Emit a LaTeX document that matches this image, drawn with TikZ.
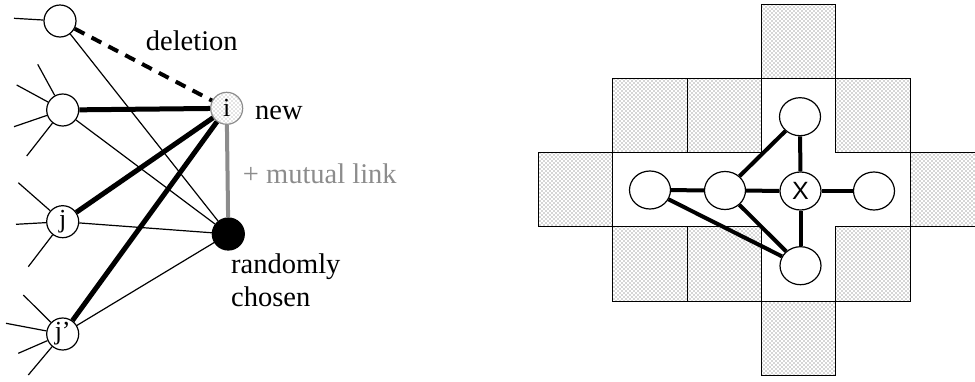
\documentclass[tikz,border=0pt]{standalone}
\usepackage{fontspec}
\setmainfont{Liberation Serif}
\newfontfamily\xsans{Liberation Sans}
\usetikzlibrary{shapes.geometric,patterns}
\pgfdeclarepatternformonly{stipple}{\pgfqpoint{-1pt}{-1pt}}{\pgfqpoint{3pt}{3pt}}{\pgfqpoint{4pt}{4pt}}{%
  \pgfpathcircle{\pgfqpoint{0pt}{0pt}}{0.62pt}%
  \pgfpathcircle{\pgfqpoint{2pt}{2pt}}{0.62pt}%
  \pgfusepath{fill}}
\tikzset{
  vtx/.style={circle, draw=black, line width=1.2pt, fill=white, minimum size=32pt, inner sep=0pt,
    font=\fontsize{26}{28}\selectfont},
  newvtx/.style={vtx, draw=black!45, pattern=stipple, pattern color=black!45},
  chosenvtx/.style={vtx, fill=black},
  thinedge/.style={line width=1.2pt},
  thickedge/.style={line width=5pt},
  deledge/.style={line width=4pt, dash pattern=on 11pt off 8pt},
  mutualedge/.style={line width=4pt, draw=black!45},
  lbl/.style={font=\fontsize{28.5}{33}\selectfont, inner sep=0pt},
  cellshade/.style={draw=black, line width=1pt, pattern=stipple, pattern color=black!70},
  evtx/.style={ellipse, draw=black, line width=1.2pt, fill=white, minimum width=41pt, minimum height=38pt, inner sep=0pt},
  gedge/.style={line width=4pt},
}
\begin{document}
\begin{tikzpicture}[x=1pt, y=-1pt]
\useasboundingbox (0,0) rectangle (975,381);
\clip (0,0) rectangle (975,381);

% ---------------- left network ----------------
\node[vtx] (a) at (60,21) {};
\node[vtx] (b) at (62.7,110) {};
\node[vtx] (j) at (62.7,221.7) {j};
\node[vtx] (jp) at (62.7,334) {j’};
\node[newvtx] (i) at (226.7,108.3) {i};
\node[chosenvtx] (r) at (228.3,234) {};

% stubs
\coordinate (sa1) at (14,18.3);
\coordinate (sb1) at (37.7,64.3);
\coordinate (sb2) at (16.7,85);
\coordinate (sb3) at (14,126.7);
\coordinate (sb4) at (26.7,156);
\coordinate (sj1) at (18.3,182.7);
\coordinate (sj2) at (16,224.3);
\coordinate (sj3) at (28.3,266.7);
\coordinate (sp1) at (23.3,295);
\coordinate (sp2) at (6,323.3);
\coordinate (sp3) at (18.3,353.3);
\coordinate (sp4) at (28.3,375);
\draw[thinedge] (sa1) -- (a);
\draw[thinedge] (sb1) -- (b);
\draw[thinedge] (sb2) -- (b);
\draw[thinedge] (sb3) -- (b);
\draw[thinedge] (sb4) -- (b);
\draw[thinedge] (sj1) -- (j);
\draw[thinedge] (sj2) -- (j);
\draw[thinedge] (sj3) -- (j);
\draw[thinedge] (sp1) -- (jp);
\draw[thinedge] (sp2) -- (jp);
\draw[thinedge] (sp3) -- (jp);
\draw[thinedge] (sp4) -- (jp);

% thin links to the randomly chosen node
\draw[thinedge] (a) -- (r);
\draw[thinedge] (b) -- (r);
\draw[thinedge] (j) -- (r);
\draw[thinedge] (jp) -- (r);

% thick links
\draw[deledge] (a) -- (i);
\draw[thickedge] (b) -- (i);
\draw[thickedge] (j) -- (i);
\draw[thickedge] (jp) -- (i);
\draw[mutualedge] (i) -- (r);

% labels
\node[lbl, anchor=base west] (tdel) at (145.7,50) {deletion};
\node[lbl, anchor=base west] (tnew) at (255,119) {new};
\node[lbl, anchor=base west, text=black!45] (tmut) at (242.7,183.3) {+ mutual link};
\node[lbl, anchor=base west] (trand) at (231,273.3) {randomly};
\node[lbl, anchor=base west] (tchos) at (231,306.7) {chosen};

% ---------------- right grid ----------------
\foreach \c/\r in {3/0,1/1,2/1,4/1,0/2,5/2,1/3,2/3,4/3,3/4}
  \draw[cellshade] ({538.5+74.3*\c},{4+74.3*\r}) rectangle ++(74.3,74.3);

\node[evtx] (A) at (650,190) {};
\node[evtx] (B) at (725,190.5) {};
\node[evtx, font=\xsans\fontsize{25}{27}\selectfont] (X) at (800.5,191) {X};
\node[evtx] (D) at (874,191) {};
\node[evtx] (T) at (800,116.7) {};
\node[evtx] (Bo) at (800.5,265.7) {};

\draw[gedge] (A) -- (B);
\draw[gedge] (B) -- (X);
\draw[gedge] (X) -- (D);
\draw[gedge] (X) -- (T);
\draw[gedge] (X) -- (Bo);
\draw[gedge] (B) -- (T);
\draw[gedge] (B) -- (Bo);
\draw[gedge] (A) -- (Bo);
\end{tikzpicture}
\end{document}
